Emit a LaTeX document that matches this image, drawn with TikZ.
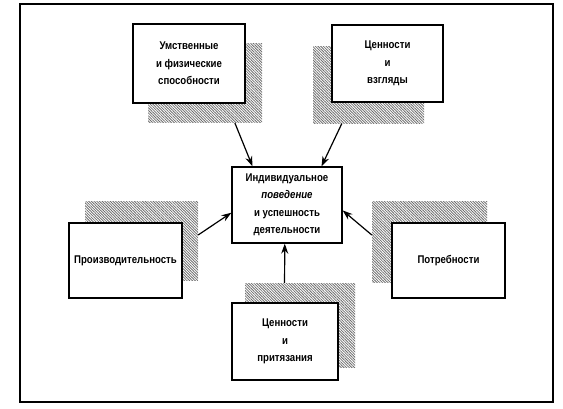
\documentclass[tikz,border=0pt]{standalone}
\usepackage{fontspec}
\setmainfont{Liberation Sans}
\newfontfamily\boxfont{Liberation Sans}[FakeStretch=0.86]
\usetikzlibrary{arrows.meta, calc, patterns.meta}
\definecolor{hatchgray}{HTML}{6e6e6e}

\begin{document}
\begin{tikzpicture}[
  x=1pt, y=-1pt,
  box/.style={draw, line width=1.3pt, fill=white, align=center, inner sep=2pt,
    font=\boxfont\bfseries\fontsize{11.2}{17.5}\selectfont},
  hatch/.style={pattern={Lines[angle=-45, distance=1.9pt, line width=0.8pt]}, pattern color=hatchgray},
  link/.style={line width=1.2pt, -{Stealth[length=10pt, width=7pt]}}
]
\useasboundingbox (0,0) rectangle (563,408);
\draw[line width=1.3pt] (20,4) rectangle (553,402);

\node[hatch, minimum width=114pt, minimum height=79pt] (abils) at (205,83) {};
\node[hatch, minimum width=111pt, minimum height=77pt] (views) at (368.5,85) {};
\node[hatch, minimum width=113pt, minimum height=79pt] (prods) at (141.5,240.5) {};
\node[hatch, minimum width=115pt, minimum height=81pt] (needs) at (429.5,241.5) {};
\node[hatch, minimum width=110pt, minimum height=84pt] (claims) at (300,325) {};

\node[box, minimum width=112pt, minimum height=79pt] (abil) at (189,63.5) {Умственные\\и физические\\способности};
\node[box, minimum width=111pt, minimum height=77pt] (view) at (387.5,63.5) {Ценности\\и\\взгляды};
\node[box, minimum width=110pt, minimum height=76pt] (act) at (287,205) {Индивидуальное\\{\itshape поведение}\\и успешность\\деятельности};
\node[box, minimum width=113pt, minimum height=75pt] (prod) at (125.5,260.5) {Производительность};
\node[box, minimum width=113pt, minimum height=75pt] (need) at (448.5,260.5) {Потребности};
\node[box, minimum width=106pt, minimum height=77pt] (claim) at (285,341.5) {Ценности\\и\\притязания};

\draw[link] ($(abils.south west)!0.76!(abils.south east)$) -- ($(act.north west)!0.19!(act.north east)$);
\draw[link] ($(views.south west)!0.26!(views.south east)$) -- ($(act.north west)!0.81!(act.north east)$);
\draw[link] ($(prods.north east)!0.43!(prods.south east)$) -- ($(act.north west)!0.6!(act.south west)$);
\draw[link] ($(needs.north west)!0.42!(needs.south west)$) -- ($(act.north east)!0.57!(act.south east)$);
\draw[link] ($(claims.north west)!0.36!(claims.north east)$) -- ($(act.south west)!0.48!(act.south east)$);
\end{tikzpicture}
\end{document}
